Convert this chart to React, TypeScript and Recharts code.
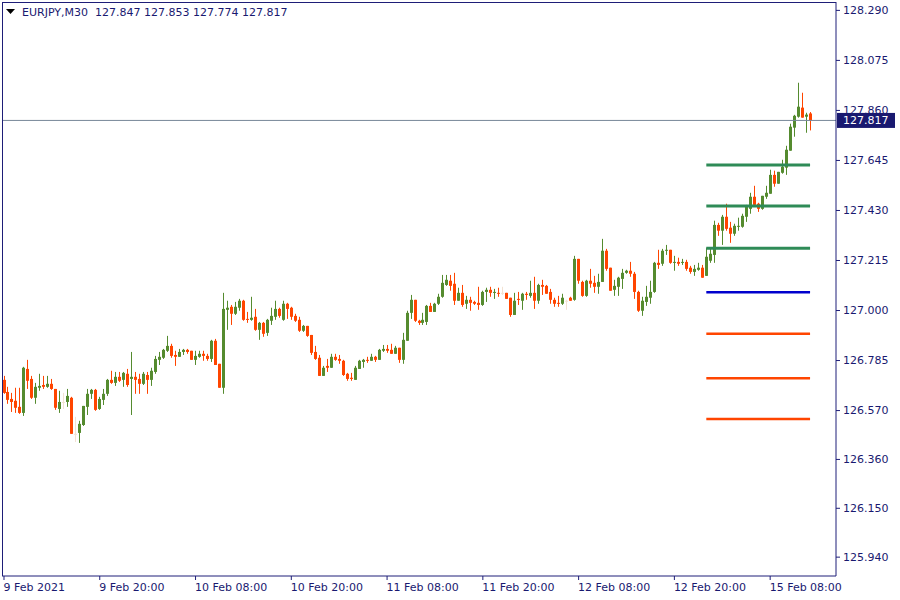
import React from 'react';
import { ComposedChart, Bar, XAxis, YAxis, ReferenceLine } from 'recharts';

// EURJPY M30 candles (oldest first)
const OPEN = [
  126.702, 126.650, 126.620, 126.612, 126.586, 126.560, 126.749, 126.706, 126.625, 126.668,
  126.680, 126.672, 126.685, 126.663, 126.577, 126.607, 126.607, 126.625, 126.470, 126.474,
  126.508, 126.586, 126.642, 126.659, 126.577, 126.616, 126.642, 126.702, 126.689, 126.715,
  126.702, 126.728, 126.706, 126.715, 126.706, 126.685, 126.723, 126.702, 126.736, 126.788,
  126.797, 126.827, 126.848, 126.809, 126.801, 126.822, 126.831, 126.827, 126.788, 126.801,
  126.814, 126.805, 126.792, 126.870, 126.771, 126.668, 127.003, 127.016, 126.986, 127.012,
  127.042, 126.964, 126.960, 126.973, 126.917, 126.947, 126.904, 126.956, 126.973, 127.007,
  126.960, 127.029, 127.012, 126.977, 126.960, 126.913, 126.934, 126.895, 126.822, 126.797,
  126.719, 126.762, 126.754, 126.801, 126.792, 126.784, 126.728, 126.711, 126.702, 126.749,
  126.779, 126.788, 126.784, 126.801, 126.788, 126.827, 126.835, 126.831, 126.814, 126.840,
  126.788, 126.870, 126.990, 127.046, 126.956, 126.947, 126.951, 127.020, 126.994, 127.029,
  127.059, 127.110, 127.128, 127.115, 127.042, 127.076, 127.029, 127.046, 127.037, 127.033,
  127.024, 127.080, 127.089, 127.076, 127.076, 127.076, 127.076, 127.055, 126.981, 127.050,
  127.042, 127.072, 127.063, 127.076, 127.042, 127.110, 127.106, 127.080, 127.046, 127.033,
  127.029, 127.042, 127.055, 127.046, 127.222, 127.123, 127.063, 127.128, 127.119, 127.102,
  127.123, 127.257, 127.184, 127.089, 127.102, 127.136, 127.162, 127.171, 127.158, 127.080,
  126.999, 127.037, 127.055, 127.080, 127.205, 127.201, 127.257, 127.261, 127.205, 127.209,
  127.205, 127.209, 127.184, 127.166, 127.175, 127.184, 127.149, 127.214, 127.239, 127.368,
  127.343, 127.403, 127.356, 127.330, 127.360, 127.360, 127.403, 127.437, 127.489, 127.459,
  127.437, 127.489, 127.502, 127.583, 127.545, 127.592, 127.614, 127.687, 127.786, 127.833,
  127.872, 127.833, 127.847,
];

const HIGH = [
  126.719, 126.672, 126.646, 126.668, 126.668, 126.758, 126.788, 126.719, 126.689, 126.728,
  126.719, 126.719, 126.706, 126.663, 126.655, 126.646, 126.663, 126.629, 126.543, 126.526,
  126.590, 126.663, 126.663, 126.663, 126.629, 126.663, 126.706, 126.741, 126.736, 126.736,
  126.736, 126.749, 126.822, 126.736, 126.728, 126.736, 126.736, 126.754, 126.805, 126.822,
  126.835, 126.891, 126.857, 126.827, 126.835, 126.835, 126.835, 126.827, 126.827, 126.827,
  126.827, 126.814, 126.874, 126.878, 126.771, 127.076, 127.042, 127.024, 127.037, 127.050,
  127.046, 126.994, 127.059, 127.007, 126.951, 126.951, 126.964, 127.012, 127.042, 127.012,
  127.042, 127.033, 127.016, 126.986, 126.973, 126.938, 126.934, 126.895, 126.848, 126.809,
  126.762, 126.792, 126.814, 126.814, 126.809, 126.788, 126.732, 126.732, 126.762, 126.788,
  126.792, 126.801, 126.814, 126.805, 126.835, 126.852, 126.852, 126.857, 126.848, 126.840,
  126.904, 126.999, 127.067, 127.046, 126.960, 126.990, 127.024, 127.033, 127.033, 127.072,
  127.153, 127.153, 127.153, 127.162, 127.098, 127.110, 127.063, 127.059, 127.042, 127.102,
  127.085, 127.098, 127.102, 127.093, 127.098, 127.102, 127.076, 127.055, 127.076, 127.080,
  127.076, 127.080, 127.128, 127.145, 127.115, 127.132, 127.110, 127.093, 127.055, 127.063,
  127.072, 127.046, 127.059, 127.235, 127.222, 127.128, 127.132, 127.179, 127.149, 127.158,
  127.308, 127.265, 127.184, 127.132, 127.145, 127.179, 127.175, 127.209, 127.166, 127.085,
  127.059, 127.106, 127.128, 127.209, 127.261, 127.265, 127.282, 127.261, 127.235, 127.227,
  127.222, 127.218, 127.192, 127.196, 127.205, 127.196, 127.270, 127.270, 127.386, 127.377,
  127.411, 127.459, 127.381, 127.373, 127.399, 127.416, 127.454, 127.506, 127.536, 127.463,
  127.493, 127.536, 127.605, 127.601, 127.596, 127.648, 127.708, 127.803, 127.841, 127.979,
  127.936, 127.850, 127.853,
];

const LOW = [
  126.642, 126.599, 126.564, 126.560, 126.556, 126.547, 126.663, 126.620, 126.599, 126.655,
  126.663, 126.668, 126.659, 126.573, 126.560, 126.577, 126.586, 126.470, 126.435, 126.431,
  126.504, 126.551, 126.620, 126.569, 126.573, 126.594, 126.633, 126.685, 126.676, 126.693,
  126.672, 126.672, 126.551, 126.642, 126.642, 126.680, 126.642, 126.676, 126.728, 126.766,
  126.792, 126.822, 126.797, 126.762, 126.801, 126.809, 126.814, 126.788, 126.766, 126.797,
  126.784, 126.784, 126.779, 126.766, 126.668, 126.642, 126.917, 126.938, 126.981, 126.999,
  126.956, 126.947, 126.956, 126.913, 126.874, 126.887, 126.891, 126.938, 126.960, 126.969,
  126.956, 126.964, 126.960, 126.951, 126.908, 126.908, 126.887, 126.809, 126.788, 126.719,
  126.719, 126.736, 126.754, 126.784, 126.771, 126.719, 126.698, 126.698, 126.702, 126.749,
  126.754, 126.775, 126.784, 126.779, 126.788, 126.822, 126.818, 126.814, 126.814, 126.775,
  126.771, 126.870, 126.964, 126.951, 126.938, 126.938, 126.938, 126.994, 126.994, 127.024,
  127.055, 127.106, 127.085, 127.024, 127.042, 127.016, 127.007, 126.999, 127.024, 127.003,
  127.020, 127.037, 127.059, 127.050, 127.059, 127.067, 127.050, 126.973, 126.981, 127.024,
  127.003, 127.046, 127.055, 127.007, 127.029, 127.067, 127.072, 127.029, 127.016, 127.016,
  127.024, 127.003, 127.042, 127.042, 127.115, 127.059, 127.059, 127.098, 127.076, 127.072,
  127.123, 127.171, 127.085, 127.063, 127.063, 127.093, 127.158, 127.145, 127.050, 126.994,
  126.977, 127.020, 127.029, 127.076, 127.179, 127.192, 127.239, 127.201, 127.171, 127.192,
  127.196, 127.171, 127.158, 127.149, 127.171, 127.141, 127.149, 127.205, 127.205, 127.321,
  127.282, 127.343, 127.291, 127.321, 127.343, 127.356, 127.381, 127.416, 127.454, 127.424,
  127.433, 127.480, 127.502, 127.532, 127.545, 127.588, 127.583, 127.687, 127.747, 127.829,
  127.829, 127.764, 127.774,
];

const CLOSE = [
  126.646, 126.616, 126.607, 126.582, 126.560, 126.754, 126.698, 126.625, 126.672, 126.676,
  126.672, 126.685, 126.663, 126.582, 126.607, 126.607, 126.633, 126.470, 126.470, 126.513,
  126.590, 126.642, 126.659, 126.573, 126.620, 126.642, 126.702, 126.689, 126.715, 126.698,
  126.732, 126.680, 126.715, 126.702, 126.685, 126.728, 126.702, 126.741, 126.792, 126.801,
  126.831, 126.848, 126.805, 126.801, 126.822, 126.831, 126.822, 126.788, 126.805, 126.814,
  126.805, 126.792, 126.870, 126.766, 126.668, 127.007, 127.012, 126.986, 127.016, 127.042,
  126.960, 126.961, 126.969, 126.917, 126.947, 126.900, 126.960, 126.977, 127.007, 126.977,
  127.029, 127.007, 126.973, 126.956, 126.913, 126.934, 126.891, 126.818, 126.792, 126.719,
  126.754, 126.754, 126.801, 126.788, 126.784, 126.723, 126.706, 126.706, 126.754, 126.784,
  126.788, 126.784, 126.801, 126.788, 126.831, 126.835, 126.827, 126.814, 126.840, 126.788,
  126.874, 126.990, 127.046, 126.956, 126.947, 126.960, 127.020, 126.994, 127.029, 127.059,
  127.119, 127.132, 127.106, 127.042, 127.076, 127.024, 127.046, 127.033, 127.029, 127.024,
  127.080, 127.089, 127.076, 127.080, 127.072, 127.076, 127.050, 126.981, 127.042, 127.046,
  127.072, 127.067, 127.076, 127.042, 127.110, 127.102, 127.072, 127.046, 127.029, 127.029,
  127.055, 127.042, 127.042, 127.222, 127.128, 127.063, 127.128, 127.115, 127.102, 127.123,
  127.257, 127.179, 127.085, 127.106, 127.141, 127.162, 127.171, 127.158, 127.080, 126.999,
  127.042, 127.059, 127.080, 127.205, 127.196, 127.257, 127.261, 127.205, 127.209, 127.201,
  127.209, 127.179, 127.166, 127.179, 127.184, 127.141, 127.231, 127.244, 127.368, 127.343,
  127.403, 127.351, 127.330, 127.364, 127.364, 127.407, 127.446, 127.489, 127.454, 127.437,
  127.493, 127.506, 127.583, 127.545, 127.596, 127.618, 127.691, 127.790, 127.837, 127.876,
  127.829, 127.842, 127.817,
];

const TIME_TICKS = [0, 24, 48, 72, 96, 120, 144, 168, 192];
const TIME_LABELS = [
  '9 Feb 2021', '9 Feb 20:00', '10 Feb 08:00', '10 Feb 20:00', '11 Feb 08:00',
  '11 Feb 20:00', '12 Feb 08:00', '12 Feb 20:00', '15 Feb 08:00',
];
const PRICE_TICKS = [
  125.94, 126.15, 126.36, 126.57, 126.785, 127.0, 127.215, 127.43, 127.645, 127.86, 128.075, 128.29,
];

// pivot levels drawn on the right
const PIVOT = 127.079;
const RESISTANCE = [127.268, 127.449, 127.625];
const SUPPORT = [126.9, 126.709, 126.534];
const LEVEL_FROM = 176;
const LEVEL_TO = 202;

const LAST_PRICE = 127.817;
const EMPTY_SLOTS = 6; // free space right of the last bar

const BULL = '#558b2f';
const BEAR = '#ff4500';
const DOJI = '#f2e2d2';
const NAVY = '#1e1e78';
const TEXT = '#191970';
const FONT = '"DejaVu Sans", Verdana, sans-serif';

const data = [
  ...OPEN.map((o, i) => ({ i, o, h: HIGH[i], l: LOW[i], c: CLOSE[i] })),
  ...Array.from({ length: EMPTY_SLOTS }, (_, k) => ({ i: OPEN.length + k })),
];

function Candle(props: any) {
  const { x, y, width, height, payload } = props;
  if (!payload || payload.o == null) return null;
  const { o, h, l, c } = payload;
  const top = Math.min(y, y + height);
  const bot = Math.max(y, y + height);
  const px = (v: number) => (h === l ? top : top + ((h - v) / (h - l)) * (bot - top));
  const cx = Math.round(x + width / 2);
  const color = c > o ? BULL : c < o ? BEAR : DOJI;
  const bTop = px(Math.max(o, c));
  const bBot = px(Math.min(o, c));
  return (
    <g>
      <line x1={cx + 0.5} x2={cx + 0.5} y1={top} y2={bot} stroke={color} strokeWidth={1} />
      <rect x={cx - 1} y={bTop} width={3} height={Math.max(1, bBot - bTop)} fill={color} />
    </g>
  );
}

function TimeTick(props: any) {
  const { x, y, payload } = props;
  const idx = TIME_TICKS.indexOf(payload.value);
  return (
    <text x={x - 0.5} y={y} dy="0.71em" textAnchor="start" fill={TEXT} fontSize={11} fontFamily={FONT}>
      {TIME_LABELS[idx]}
    </text>
  );
}

function PriceTag(props: any) {
  const vb = props.viewBox || {};
  const x = (vb.x || 0) + (vb.width || 0);
  const y = vb.y || 0;
  return (
    <g>
      <rect x={x + 1} y={y - 7.5} width={58} height={15} fill="#191970" />
      <text x={x + 7} y={y} dy="0.36em" fill="#ffffff" fontSize={11} fontFamily={FONT}>
        {LAST_PRICE.toFixed(3)}
      </text>
    </g>
  );
}

export default function App() {
  return (
    <div style={{ position: 'absolute', left: 0, top: 0, width: 900, height: 600, background: '#fff' }}>
      <ComposedChart width={900} height={600} data={data} margin={{ top: 2, right: 0, bottom: 0, left: 2 }}>
        <XAxis
          dataKey="i"
          type="category"
          ticks={TIME_TICKS}
          interval={0}
          height={24}
          tickSize={4}
          tickMargin={3}
          tick={<TimeTick />}
          stroke={NAVY}
        />
        <YAxis
          orientation="right"
          type="number"
          domain={[125.859, 128.326]}
          allowDataOverflow
          ticks={PRICE_TICKS}
          interval={0}
          width={64}
          tickSize={4}
          tickMargin={3}
          tickFormatter={(v: number) => v.toFixed(3)}
          tick={{ fill: TEXT, fontSize: 11, fontFamily: FONT }}
          stroke={NAVY}
        />
        <ReferenceLine y={LAST_PRICE} stroke="#778899" strokeWidth={1} label={<PriceTag />} />
        <Bar
          dataKey={(d: any) => (d.o == null ? null : [d.l, d.h])}
          barSize={3}
          shape={(p: any) => <Candle {...p} />}
          isAnimationActive={false}
        />
        {RESISTANCE.map((v) => (
          <ReferenceLine
            key={'r' + v}
            segment={[{ x: LEVEL_FROM, y: v }, { x: LEVEL_TO, y: v }]}
            stroke="#2e8b57"
            strokeWidth={3}
          />
        ))}
        <ReferenceLine
          segment={[{ x: LEVEL_FROM, y: PIVOT }, { x: LEVEL_TO, y: PIVOT }]}
          stroke="#0000cd"
          strokeWidth={2.5}
        />
        {SUPPORT.map((v) => (
          <ReferenceLine
            key={'s' + v}
            segment={[{ x: LEVEL_FROM, y: v }, { x: LEVEL_TO, y: v }]}
            stroke="#ff4500"
            strokeWidth={2.5}
          />
        ))}
      </ComposedChart>
      <div
        style={{
          position: 'absolute',
          left: 2,
          top: 2,
          width: 834,
          height: 574,
          borderLeft: `1px solid ${NAVY}`,
          borderTop: `1px solid ${NAVY}`,
          pointerEvents: 'none',
          boxSizing: 'border-box',
        }}
      />
      <svg style={{ position: 'absolute', left: 6, top: 9 }} width={9} height={6}>
        <polygon points="0,0 9,0 4.5,5" fill="#000" />
      </svg>
      <div
        style={{
          position: 'absolute',
          left: 22,
          top: 6,
          fontFamily: FONT,
          fontSize: 11,
          lineHeight: '13px',
          color: TEXT,
          whiteSpace: 'pre',
        }}
      >
        {'EURJPY,M30  127.847 127.853 127.774 127.817'}
      </div>
    </div>
  );
}
